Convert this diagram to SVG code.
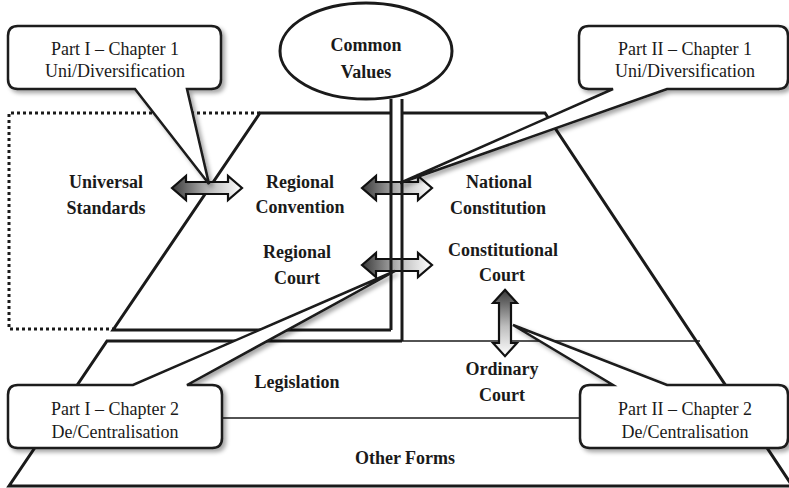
<svg xmlns="http://www.w3.org/2000/svg" width="789" height="488" viewBox="0 0 789 488">
<style>
.thick{fill:none;stroke:#1a1a1a;stroke-width:3;stroke-linejoin:miter}
.thin{fill:none;stroke:#1a1a1a;stroke-width:1.5}
.dot{fill:none;stroke:#1a1a1a;stroke-width:3;stroke-dasharray:3 3}
.lbl{font-family:"Liberation Serif","Times New Roman",serif;font-weight:bold;font-size:18px;fill:#1a1a1a;text-anchor:middle}
.ctx{font-family:"Liberation Serif","Times New Roman",serif;font-size:18px;fill:#1a1a1a;text-anchor:middle}
.call{fill:#fff;stroke:#1a1a1a;stroke-width:2.5;stroke-linejoin:miter;filter:url(#sh)}
.arr{fill:url(#g);stroke:#111;stroke-width:2.2;stroke-linejoin:miter}
</style>
<defs>
<linearGradient id="g" x1="0" y1="0" x2="1" y2="0">
<stop offset="0" stop-color="#3a3a3a"/>
<stop offset="0.55" stop-color="#bdbdbd"/>
<stop offset="1" stop-color="#ffffff"/>
</linearGradient>
<filter id="sh" x="-10%" y="-10%" width="130%" height="130%">
<feDropShadow dx="3" dy="3" stdDeviation="2" flood-color="#000" flood-opacity="0.35"/>
</filter>
<path id="da" d="M -35,0 L -21,-12 L -21,-6 L 21,-6 L 21,-12 L 35,0 L 21,12 L 21,6 L -21,6 L -21,12 Z"/>
</defs>

<g id="layers">
<path class="dot" d="M 260,113 H 9 V 329 H 113"/>
<path class="thin" d="M 402,341 H 700"/>
<path class="thin" d="M 60,418 H 740"/>
<path id="regional" class="thick" d="M 391,113 H 260 L 113,330 H 391"/>
<path id="national" class="thick" d="M 402,113 H 545 L 793,487"/>
<path id="lower" class="thick" d="M 402,341 H 107 L 9,486 H 789"/>
</g>

<g id="ellipse-node">
<ellipse cx="366" cy="51" rx="86" ry="48" fill="#fff" stroke="#1a1a1a" stroke-width="3"/>
<text class="lbl" x="366" y="51">Common</text>
<text class="lbl" x="366" y="78">Values</text>
</g>

<g id="connectors">
<use href="#da" class="arr" transform="translate(207,188)"/>
<use href="#da" class="arr" transform="translate(397,188)"/>
<use href="#da" class="arr" transform="translate(397,265)"/>
<use href="#da" class="arr" transform="translate(505,323) rotate(90) scale(0.95,1)"/>
</g>

<g id="divider">
<path class="thick" d="M 391,99 V 330"/>
<path class="thick" d="M 402,99 V 341"/>
</g>

<g id="labels">
<text class="lbl" x="106" y="188">Universal</text>
<text class="lbl" x="106" y="214">Standards</text>
<text class="lbl" x="300" y="188">Regional</text>
<text class="lbl" x="300" y="213">Convention</text>
<text class="lbl" x="499" y="188">National</text>
<text class="lbl" x="498" y="214">Constitution</text>
<text class="lbl" x="297" y="258">Regional</text>
<text class="lbl" x="297" y="284">Court</text>
<text class="lbl" x="503" y="256">Constitutional</text>
<text class="lbl" x="502" y="281">Court</text>
<text class="lbl" x="297" y="388">Legislation</text>
<text class="lbl" x="502" y="375">Ordinary</text>
<text class="lbl" x="502" y="401">Court</text>
<text class="lbl" x="405" y="464">Other Forms</text>
</g>

<g id="callout-p1c1">
<path class="call" d="M 18,26 H 211 Q 221,26 221,36 V 79 Q 221,89 211,89 H 187 L 209,184 L 135,89 H 18 Q 8,89 8,79 V 36 Q 8,26 18,26 Z"/>
<text class="ctx" x="115" y="55">Part I – Chapter 1</text>
<text class="ctx" x="115" y="77">Uni/Diversification</text>
</g>
<g id="callout-p2c1">
<path class="call" d="M 589,26 H 778 Q 788,26 788,36 V 79 Q 788,89 778,89 H 667 L 400,183 L 613,89 H 589 Q 579,89 579,79 V 36 Q 579,26 589,26 Z"/>
<text class="ctx" x="685" y="55">Part II – Chapter 1</text>
<text class="ctx" x="685" y="77">Uni/Diversification</text>
</g>
<g id="callout-p1c2">
<path class="call" d="M 18,385 H 133 L 395,271 L 187,385 H 212 Q 222,385 222,395 V 438 Q 222,448 212,448 H 18 Q 8,448 8,438 V 395 Q 8,385 18,385 Z"/>
<text class="ctx" x="115" y="415">Part I – Chapter 2</text>
<text class="ctx" x="115" y="438">De/Centralisation</text>
</g>
<g id="callout-p2c2">
<path class="call" d="M 590,385 H 613 L 513,325 L 667,385 H 778 Q 788,385 788,395 V 438 Q 788,448 778,448 H 590 Q 580,448 580,438 V 395 Q 580,385 590,385 Z"/>
<text class="ctx" x="685" y="415">Part II – Chapter 2</text>
<text class="ctx" x="685" y="438">De/Centralisation</text>
</g>
</svg>
